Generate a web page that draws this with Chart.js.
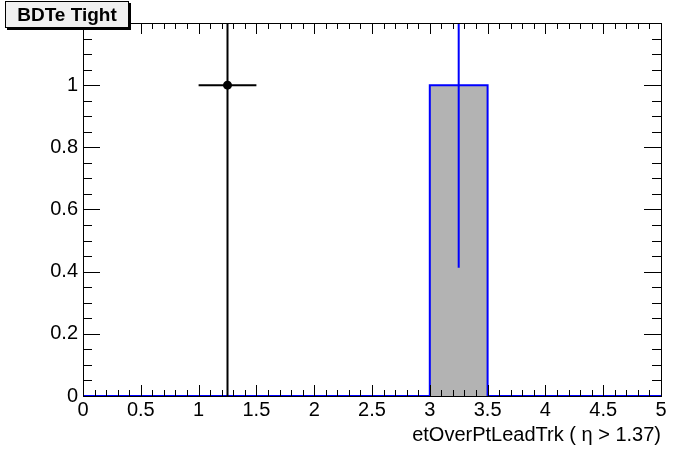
<!DOCTYPE html>
<html>
<head>
<meta charset="utf-8">
<script src="https://cdn.jsdelivr.net/npm/chart.js@4.4.1/dist/chart.umd.min.js"></script>
<style>
  html, body { margin: 0; padding: 0; background: #fff; }
  #wrap { position: relative; width: 696px; height: 472px; }
  #label-box {
    position: absolute; left: 5px; top: 1px; width: 122px; height: 25px;
    border: 1px solid #000; background: #f0f0f0; box-shadow: 2px 2px 0 #000;
    font: bold 19px "Liberation Sans", Arial, sans-serif; color: #000;
    text-align: center; line-height: 25px;
  }
</style>
</head>
<body>
<div id="wrap">
  <canvas id="c" width="696" height="472"></canvas>
  <div id="label-box">BDTe Tight</div>
</div>
<script>
// histogram binning (10 bins of 0.5 between 0 and 5)
const binEdges = [0, 0.5, 1, 1.5, 2, 2.5, 3, 3.5, 4, 4.5, 5];
const binCenters = [0.25, 0.75, 1.25, 1.75, 2.25, 2.75, 3.25, 3.75, 4.25, 4.75];

// blue filled histogram
const sigCounts = [0, 0, 0, 0, 0, 0, 1, 0, 0, 0];
const sigErrors = [0, 0, 0, 0, 0, 0, 0.5875, 0, 0, 0];

// black data points
const dataCounts = [0, 0, 1, 0, 0, 0, 0, 0, 0, 0];
const dataErrors = [0, 0, 1, 0, 0, 0, 0, 0, 0, 0];

// axes
const xMin = 0, xMax = 5, xStep = 0.5, xMinor = 0.1;
const yMin = 0, yMax = 1.2, yStep = 0.2, yMinor = 0.05;
const xTitle = 'etOverPtLeadTrk ( \u03b7 > 1.37)';

Chart.defaults.font.family = '"Liberation Sans", Arial, sans-serif';
Chart.defaults.font.size = 20;
Chart.defaults.color = '#000';

// step outline of the histogram: value of point i holds over bin i
const sigStep = binEdges.map((e, i) => ({ x: e, y: sigCounts[Math.min(i, sigCounts.length - 1)] }));

// error bar segments separated by gaps
function errorSegments(counts, errors, withX) {
  const pts = [];
  counts.forEach((v, i) => {
    if (v === 0) return;
    const c = binCenters[i];
    if (withX) {
      pts.push({ x: binEdges[i], y: v }, { x: binEdges[i + 1], y: v }, { x: c, y: null });
    }
    pts.push({ x: c, y: v - errors[i] }, { x: c, y: v + errors[i] }, { x: c, y: null });
  });
  return pts;
}

const dataPoints = [];
dataCounts.forEach((v, i) => { if (v !== 0) dataPoints.push({ x: binCenters[i], y: v }); });

const fmt = v => String(Number(v.toFixed(3)));

// ROOT-style frame with inner ticks on all four sides
const frameTicks = {
  id: 'frameTicks',
  afterDatasetsDraw(chart) {
    const { ctx, chartArea: a } = chart;
    const xs = chart.scales.x, ys = chart.scales.y;
    ctx.save();
    ctx.strokeStyle = '#000';
    ctx.lineWidth = 1;
    ctx.beginPath();
    const nx = Math.round((xMax - xMin) / xMinor);
    for (let i = 0; i <= nx; i++) {
      const v = xMin + i * xMinor;
      const px = Math.round(xs.getPixelForValue(v)) + 0.5;
      const len = (i % Math.round(xStep / xMinor) === 0) ? 11 : 6;
      ctx.moveTo(px, a.bottom); ctx.lineTo(px, a.bottom - len);
      ctx.moveTo(px, a.top); ctx.lineTo(px, a.top + len);
    }
    const ny = Math.round((yMax - yMin) / yMinor);
    for (let i = 0; i <= ny; i++) {
      const v = yMin + i * yMinor;
      const py = Math.round(ys.getPixelForValue(v)) + 0.5;
      const len = (i % Math.round(yStep / yMinor) === 0) ? 17 : 9;
      ctx.moveTo(a.left, py); ctx.lineTo(a.left + len, py);
      ctx.moveTo(a.right, py); ctx.lineTo(a.right - len, py);
    }
    ctx.stroke();
    ctx.strokeRect(Math.round(a.left) + 0.5, Math.round(a.top) + 0.5,
      Math.round(a.right - a.left), Math.round(a.bottom - a.top));
    ctx.restore();
  }
};

new Chart(document.getElementById('c'), {
  type: 'line',
  data: {
    datasets: [
      {
        label: 'signal',
        data: sigStep,
        order: 4,
        stepped: 'before',
        borderColor: '#0000ff',
        borderWidth: 2,
        backgroundColor: '#b3b3b3',
        fill: 'origin',
        pointRadius: 0
      },
      {
        label: 'signal err',
        data: errorSegments(sigCounts, sigErrors, false),
        order: 3,
        borderColor: '#0000ff',
        borderWidth: 2,
        pointRadius: 0,
        fill: false,
        spanGaps: false
      },
      {
        label: 'data err',
        data: errorSegments(dataCounts, dataErrors, true),
        order: 2,
        borderColor: '#000',
        borderWidth: 2,
        pointRadius: 0,
        fill: false,
        spanGaps: false
      },
      {
        label: 'data',
        data: dataPoints,
        order: 1,
        showLine: false,
        pointRadius: 4.5,
        pointBackgroundColor: '#000',
        pointBorderColor: '#000',
        pointBorderWidth: 0
      }
    ]
  },
  options: {
    responsive: false,
    animation: false,
    events: [],
    layout: { padding: { top: 23, right: 35, left: 0, bottom: 0 } },
    plugins: { legend: { display: false }, tooltip: { enabled: false }, title: { display: false } },
    scales: {
      x: {
        type: 'linear',
        min: xMin, max: xMax,
        grid: { display: false, drawTicks: false, tickLength: 0 },
        border: { display: false },
        ticks: { stepSize: xStep, padding: 2, maxRotation: 0, autoSkip: false, callback: fmt },
        title: { display: true, text: xTitle, align: 'end', padding: { top: 0, bottom: 25 } },
        afterFit(scale) { scale.height = 76; }
      },
      y: {
        min: yMin, max: yMax,
        grid: { display: false, drawTicks: false, tickLength: 0 },
        border: { display: false },
        ticks: { stepSize: yStep, padding: 5, autoSkip: false, callback: fmt },
        afterFit(scale) { scale.width = 83; }
      }
    }
  },
  plugins: [frameTicks]
});
</script>
</body>
</html>
